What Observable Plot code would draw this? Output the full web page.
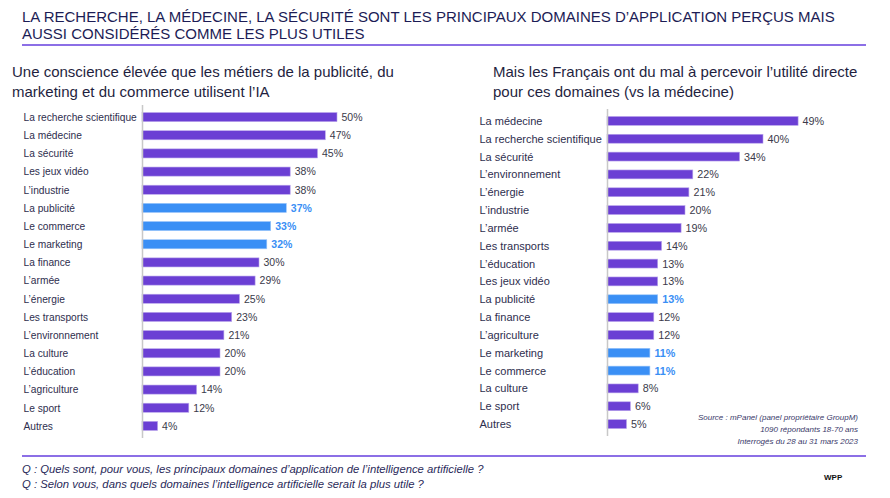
<!DOCTYPE html>
<html><head><meta charset="utf-8">
<script src="https://cdn.jsdelivr.net/npm/d3@7"></script>
<script src="https://cdn.jsdelivr.net/npm/@observablehq/plot@0.6"></script>
<style>
body{margin:0;background:#fff;}
#page{position:relative;width:890px;height:498px;overflow:hidden;font-family:"Liberation Sans",Arial,sans-serif;color:#1f1f4f;}
.abs{position:absolute;}
#title{left:22px;top:8px;font-size:15px;line-height:17px;color:#1c1c55;}
.hr{left:22px;width:844px;height:2px;background:#8c6fe6;}
.sub{font-size:15px;line-height:20px;color:#1f1f3f;}
#src{right:32px;top:412px;text-align:right;font-style:italic;font-size:8px;line-height:12px;color:#3a3a6a;}
#q{left:22px;top:462px;font-style:italic;font-size:11.3px;line-height:15px;color:#2a2a5a;}
#wpp{left:824px;top:473px;font-size:8px;font-weight:bold;color:#111;}
</style></head>
<body><div id="page">
<div id="title" class="abs">LA RECHERCHE, LA MÉDECINE, LA SÉCURITÉ SONT LES PRINCIPAUX DOMAINES D’APPLICATION PERÇUS MAIS<br>AUSSI CONSIDÉRÉS COMME LES PLUS UTILES</div>
<div class="abs hr" style="top:44px"></div>
<div class="abs sub" style="left:12px;top:62px">Une conscience élevée que les métiers de la publicité, du<br>marketing et du commerce utilisent l’IA</div>
<div class="abs sub" style="left:493px;top:62px">Mais les Français ont du mal à percevoir l’utilité directe<br>pour ces domaines (vs la médecine)</div>
<div id="left" class="abs" style="left:0;top:100px"></div>
<div id="right" class="abs" style="left:450px;top:100px"></div>
<div id="src" class="abs">Source : mPanel (panel propriétaire GroupM)<br>1090 répondants 18-70 ans<br>Interrogés du 28 au 31 mars 2023</div>
<div class="abs hr" style="top:455px"></div>
<div id="q" class="abs">Q : Quels sont, pour vous, les principaux domaines d’application de l’intelligence artificielle ?<br>Q : Selon vous, dans quels domaines l’intelligence artificielle serait la plus utile ?</div>
<div id="wpp" class="abs">WPP</div>
</div>
<script>
const leftCategories = ["La recherche scientifique","La médecine","La sécurité","Les jeux vidéo","L’industrie","La publicité","Le commerce","Le marketing","La finance","L’armée","L’énergie","Les transports","L’environnement","La culture","L’éducation","L’agriculture","Le sport","Autres"];
const leftValues = [50,47,45,38,38,37,33,32,30,29,25,23,21,20,20,14,12,4];
const rightCategories = ["La médecine","La recherche scientifique","La sécurité","L’environnement","L’énergie","L’industrie","L’armée","Les transports","L’éducation","Les jeux vidéo","La publicité","La finance","L’agriculture","Le marketing","Le commerce","La culture","Le sport","Autres"];
const rightValues = [49,40,34,22,21,20,19,14,13,13,13,12,12,11,11,8,6,5];
const highlighted = ["La publicité","Le commerce","Le marketing"];

const PURPLE = "#6b3fd4", BLUE = "#3a8ff5";

function chart(cats, vals, opts) {
  const data = cats.map((c, i) => ({cat: c, v: vals[i], hl: highlighted.includes(c)}));
  const normal = data.filter(d => !d.hl), hl = data.filter(d => d.hl);
  return Plot.plot({
    width: 440, height: 345,
    marginLeft: opts.ml, marginRight: 440 - opts.ml - 234,
    marginTop: opts.mt, marginBottom: opts.mb,
    style: {fontFamily: "Liberation Sans, Arial, sans-serif", background: "transparent"},
    x: {domain: [0, 60], axis: null},
    y: {domain: cats, paddingInner: 0.5, paddingOuter: 0.25, round: false, axis: null},
    marks: [
      Plot.barX(data, {y: "cat", x: "v", fill: d => d.hl ? BLUE : PURPLE, stroke: d => d.hl ? "#9cc6fa" : "#b9a5ec", strokeWidth: 0.6}),
      Plot.ruleX([0], {stroke: "#c8c8c8", strokeWidth: 1.5, insetTop: -3, insetBottom: -3}),
      Plot.text(data, {y: "cat", text: "cat", frameAnchor: "left", textAnchor: "start", dx: opts.dx, fontSize: opts.fs, fill: "#2e2e4e"}),
      Plot.text(normal, {y: "cat", x: "v", text: d => d.v + "%", textAnchor: "start", dx: 4, fontSize: opts.vfs, fill: "#3a3a4a"}),
      Plot.text(hl, {y: "cat", x: "v", text: d => d.v + "%", textAnchor: "start", dx: 4, fontSize: opts.vfs, fill: BLUE, fontWeight: "bold"})
    ]
  });
}
document.getElementById("left").append(chart(leftCategories, leftValues, {ml: 142, mt: 8, mb: 10, dx: -119, fs: 10.2, vfs: 10.5}));
document.getElementById("right").append(chart(rightCategories, rightValues, {ml: 157, mt: 12, mb: 12, dx: -128, fs: 11, vfs: 10.8}));
</script>
</body></html>
